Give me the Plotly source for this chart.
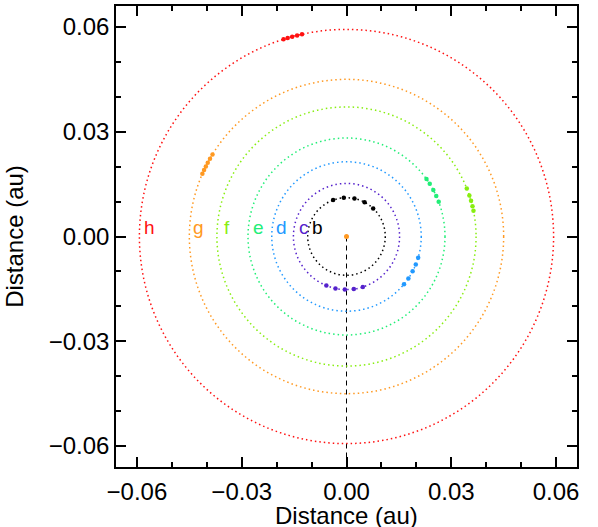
import numpy as np
import plotly.graph_objects as go

# planets, orbit radii (au) and colours
planets = ["b", "c", "d", "e", "f", "g", "h"]
radii = [0.0111, 0.0152, 0.0214, 0.0282, 0.0371, 0.0450, 0.0593]
colors = ["#000000", "#5522CC", "#2299FF", "#22EE77", "#88EE11", "#FF9922", "#FF1111"]

# positions of each planet along its orbit (degrees, counter-clockwise from +x)
angles = {
    "b": [46.5, 62.2, 78.2, 94.0, 110.2],
    "c": [-112.3, -102.0, -91.8, -82.1, -72.1],
    "d": [-39.7, -34.1, -27.8, -22.0, -16.5],
    "e": [20.6, 24.3, 28.2, 32.3, 35.7],
    "f": [11.5, 13.5, 16.0, 18.5, 21.8],
    "g": [148.5, 150.3, 152.0, 153.5, 155.0, 156.5],
    "h": [102.4, 103.8, 105.2, 106.5, 107.7],
}

# label positions (au)
label_x = [-0.0083, -0.0123, -0.0187, -0.0253, -0.0341, -0.0424, -0.0563]
label_y = 0.0025

fig = go.Figure()

#orbits
for p, r, c in zip(planets, radii, colors):
    fig.add_shape(type="circle", xref="x", yref="y",
                  x0=-r, y0=-r, x1=r, y1=r,
                  line=dict(color=c, width=1.5, dash="1.5px,3px"))

#line of sight
fig.add_trace(go.Scatter(
    x=[0, 0], y=[0, -0.066], mode="lines",
    line=dict(color="black", width=1, dash="5px,4px"),
    showlegend=False, hoverinfo="skip"
))

#planet positions
for p, r, c in zip(planets, radii, colors):
    th = np.radians(angles[p])
    fig.add_trace(go.Scatter(
        x=r * np.cos(th), y=r * np.sin(th), mode="markers",
        marker=dict(size=4.5, color=c), showlegend=False, name=p
    ))

#star
fig.add_trace(go.Scatter(
    x=[0], y=[0], mode="markers",
    marker=dict(size=5, color="#FF9922"), showlegend=False
))

for p, c, lx in zip(planets, colors, label_x):
    fig.add_annotation(x=lx, y=label_y, text=p, showarrow=False,
                       font=dict(size=19, color=c, family="Liberation Sans, Arial"))

# x title as annotation so it can sit low like the original
fig.add_annotation(x=0.5, y=-0.072, xref="paper", yref="paper",
                   text="Distance (au)", showarrow=False, yanchor="top",
                   font=dict(size=24, color="black"))

axis_style = dict(
    range=[-0.066, 0.066],
    tickvals=[-0.06, -0.03, 0.0, 0.03, 0.06],
    tickformat=".2f",
    showline=True, linecolor="black", linewidth=1.5, mirror="ticks",
    ticks="inside", ticklen=10, tickwidth=1.5, tickcolor="black",
    minor=dict(ticks="inside", ticklen=5, tickwidth=1.5, tickcolor="black",
               tickvals=[-0.05, -0.04, -0.02, -0.01, 0.01, 0.02, 0.04, 0.05]),
    showgrid=False, zeroline=False, automargin=False,
    tickfont=dict(size=24, color="black"),
    title_font=dict(size=24, color="black"),
)

fig.update_layout(
    width=598, height=527,
    margin=dict(l=116, r=21, t=6, b=60),
    plot_bgcolor="white", paper_bgcolor="white",
    font=dict(family="Liberation Sans, Arial", color="black"),
    xaxis=dict(axis_style, ticklabelstandoff=2),
    yaxis=dict(axis_style, title=dict(text="Distance (au)", standoff=18)),
)

fig.write_html("out.html", config={"displayModeBar": False},
               post_script="document.body.style.margin='0';")
